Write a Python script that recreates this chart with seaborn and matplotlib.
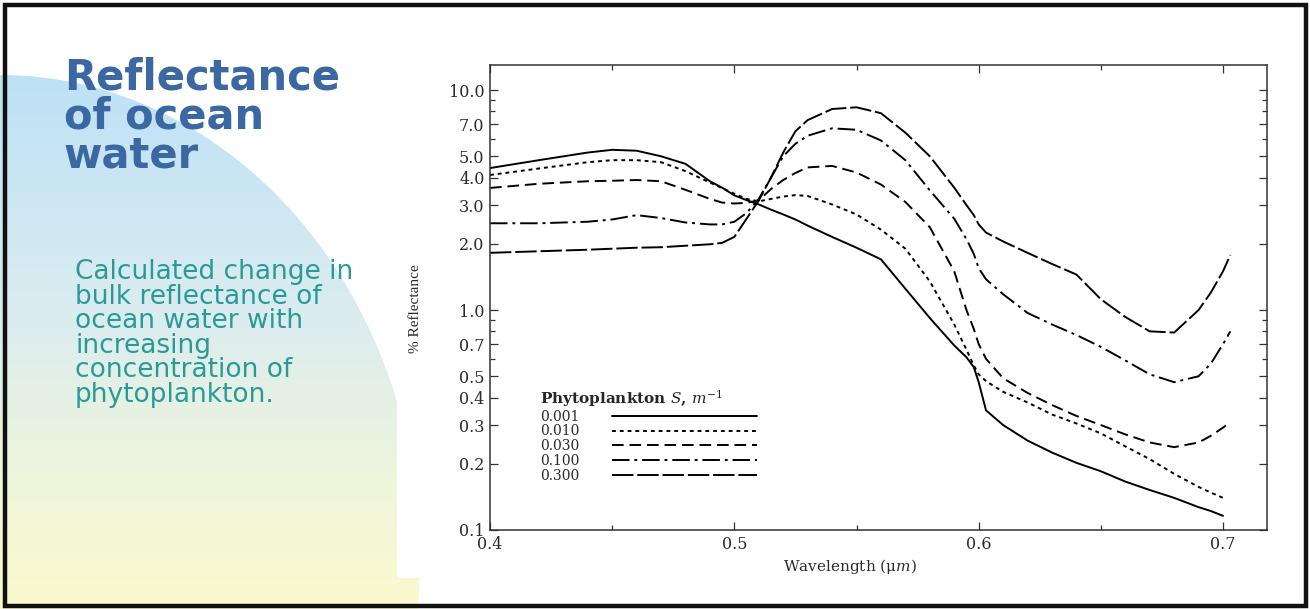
import numpy as np
import pandas as pd
import seaborn as sns
import matplotlib.pyplot as plt
import matplotlib.ticker as mticker
from matplotlib.patches import Ellipse, Rectangle
from matplotlib.colors import LinearSegmentedColormap

nan = np.nan

# Wavelength grid (micrometres) and % reflectance for each phytoplankton level
wavelength = [0.400, 0.420, 0.440, 0.450, 0.460, 0.470, 0.480, 0.490, 0.495, 0.500,
              0.505, 0.510, 0.515, 0.520, 0.525, 0.530, 0.540, 0.550, 0.560, 0.570,
              0.580, 0.590, 0.595, 0.598, 0.600, 0.603, 0.610, 0.620, 0.630, 0.640,
              0.650, 0.660, 0.670, 0.680, 0.690, 0.695, 0.700, 0.703]

refl_0001 = [4.42, 4.80, 5.20, 5.35, 5.30, 5.00, 4.62, 3.85, 3.60, 3.32,
             3.16, 3.02, 2.86, 2.72, 2.58, 2.42, 2.15, 1.92, 1.70, 1.25,
             0.92, 0.69, 0.61, 0.55, 0.47, 0.35, 0.30, 0.255, 0.225, 0.202,
             0.185, 0.166, 0.152, 0.140, 0.127, 0.122, 0.116, nan]
refl_0010 = [4.11, 4.40, 4.70, 4.80, 4.80, 4.70, 4.28, 3.80, 3.58, 3.38,
             3.20, 3.12, 3.20, 3.28, 3.33, 3.30, 3.02, 2.72, 2.32, 1.90,
             1.35, 0.86, 0.66, 0.56, 0.51, 0.475, 0.425, 0.38, 0.335, 0.305,
             0.275, 0.24, 0.21, 0.18, 0.157, 0.148, 0.140, nan]
refl_0030 = [3.59, 3.75, 3.85, 3.87, 3.90, 3.85, 3.52, 3.20, 3.08, 3.05,
             3.07, 3.15, 3.55, 3.90, 4.20, 4.45, 4.52, 4.22, 3.72, 3.10,
             2.38, 1.50, 1.00, 0.82, 0.70, 0.60, 0.49, 0.42, 0.37, 0.33,
             0.30, 0.272, 0.25, 0.238, 0.25, 0.268, 0.292, 0.31]
refl_0100 = [2.48, 2.48, 2.52, 2.58, 2.70, 2.62, 2.50, 2.45, 2.45, 2.52,
             2.76, 3.20, 4.00, 5.00, 5.70, 6.20, 6.70, 6.60, 5.90, 4.80,
             3.50, 2.60, 2.10, 1.80, 1.55, 1.38, 1.18, 0.97, 0.86, 0.77,
             0.68, 0.59, 0.51, 0.47, 0.50, 0.57, 0.70, 0.80]
refl_0300 = [1.82, 1.85, 1.88, 1.90, 1.92, 1.93, 1.96, 1.99, 2.02, 2.15,
             2.60, 3.15, 4.00, 5.20, 6.50, 7.30, 8.20, 8.35, 7.85, 6.40,
             5.00, 3.60, 3.00, 2.70, 2.45, 2.25, 2.05, 1.82, 1.62, 1.45,
             1.12, 0.93, 0.80, 0.79, 1.00, 1.20, 1.50, 1.78]

levels = ["0.001", "0.010", "0.030", "0.100", "0.300"]
series = [refl_0001, refl_0010, refl_0030, refl_0100, refl_0300]

y_ticks = [0.1, 0.2, 0.3, 0.4, 0.5, 0.7, 1.0, 2.0, 3.0, 4.0, 5.0, 7.0, 10.0]
y_minor = [0.6, 0.8, 0.9, 6.0, 8.0, 9.0]
x_ticks = [0.4, 0.5, 0.6, 0.7]
x_minor = [0.45, 0.55, 0.65]

title_text = "Reflectance\nof ocean\nwater"
caption_text = ("Calculated change in\nbulk reflectance of\nocean water with\n"
                "increasing\nconcentration of\nphytoplankton.")

df = pd.concat(
    [pd.DataFrame({"wavelength": wavelength, "reflectance": vals, "S": lvl})
     for lvl, vals in zip(levels, series)],
    ignore_index=True,
).dropna()

sns.set_theme(style="ticks")
plt.rcParams["font.family"] = ["DejaVu Serif"]
plt.rcParams["mathtext.fontset"] = "dejavuserif"

W, H = 1310, 609
fig = plt.figure(figsize=(W / 100, H / 100), dpi=100)
fig.patch.set_facecolor("white")

# ---- slide background: pale blue-to-yellow disc, white panel, frame ----
bg = fig.add_axes([0, 0, 1, 1], zorder=0)
bg.set_xlim(0, W)
bg.set_ylim(H, 0)
bg.axis("off")

grad_cmap = LinearSegmentedColormap.from_list(
    "sky_sand", [(0.0, "#bde1f6"), (0.45, "#dbecf0"), (0.75, "#eef5dc"), (1.0, "#fbfacd")])
grad = np.linspace(0, 1, 256).reshape(-1, 1)
im = bg.imshow(grad, cmap=grad_cmap, extent=(0, 420, H, 70), origin="upper",
               aspect="auto", zorder=1)
disc = Ellipse((0, 560), 2 * 420, 2 * 485, facecolor="none", edgecolor="none")
bg.add_patch(disc)
im.set_clip_path(disc)

bg.add_patch(Rectangle((397, 0), W - 397, 578, facecolor="white", edgecolor="none", zorder=2))
bg.add_patch(Rectangle((5, 5), W - 9, H - 8, fill=False, edgecolor="#111111",
                       linewidth=3.2, zorder=6))

bg.text(64, 56, title_text, family="DejaVu Sans", fontweight="bold", fontsize=30,
        color="#3b67a3", ha="left", va="top", linespacing=0.92, zorder=4)
bg.text(75, 259, caption_text, family="DejaVu Sans", fontsize=19,
        color="#2a9a97", ha="left", va="top", linespacing=0.93, zorder=4)

# ---- reflectance chart ----
ax = fig.add_axes([490 / W, 1 - 530 / H, 777 / W, 465 / H], zorder=3)
ax.set_facecolor("white")

dash_map = {"0.001": "", "0.010": (2, 2), "0.030": (6, 3),
            "0.100": (9, 2.5, 1.5, 2.5), "0.300": (11, 2)}
sns.lineplot(data=df, x="wavelength", y="reflectance", style="S",
             style_order=levels, dashes=dash_map, color="black",
             linewidth=1.4, estimator=None, sort=True, legend=False, ax=ax)

ax.set_yscale("log")
ax.set_xlim(0.4, 0.718)
ax.set_ylim(0.1, 13.0)

ax.yaxis.set_major_locator(mticker.FixedLocator(y_ticks))
ax.yaxis.set_major_formatter(mticker.FuncFormatter(lambda v, _: f"{v:.1f}"))
ax.yaxis.set_minor_locator(mticker.FixedLocator(y_minor))
ax.yaxis.set_minor_formatter(mticker.NullFormatter())
ax.xaxis.set_major_locator(mticker.FixedLocator(x_ticks))
ax.xaxis.set_major_formatter(mticker.FuncFormatter(lambda v, _: f"{v:.1f}"))
ax.xaxis.set_minor_locator(mticker.FixedLocator(x_minor))

ax.tick_params(which="both", direction="in", top=True, right=True,
               color="#333333", width=0.9, labelsize=11.5, labelcolor="#2b2b2b")
ax.tick_params(which="major", length=6, pad=4)
ax.tick_params(which="minor", length=3.5)
for sp in ax.spines.values():
    sp.set_color("#333333")
    sp.set_linewidth(1.1)

ax.set_xlabel("Wavelength (μ$m$)", fontsize=11, color="#2b2b2b")
ax.xaxis.set_label_coords(0.463, -0.058)
ax.set_ylabel("% Reflectance", fontsize=11, color="#2b2b2b", family="Liberation Serif")
ax.yaxis.set_label_coords(-0.088, 0.477)

leg = ax.legend(handles=ax.get_lines()[:len(levels)], labels=levels,
                title="Phytoplankton $S$, $m^{-1}$", loc="upper left",
                bbox_to_anchor=(0.064, 0.305), frameon=False, markerfirst=False,
                fontsize=10, handlelength=10.4, handletextpad=2.4,
                labelspacing=0.05, borderpad=0, borderaxespad=0, alignment="left")
leg.get_title().set_fontsize(11)
leg.get_title().set_fontweight("bold")
for t in leg.get_texts():
    t.set_color("#2b2b2b")

fig.savefig("out.png", dpi=100)
